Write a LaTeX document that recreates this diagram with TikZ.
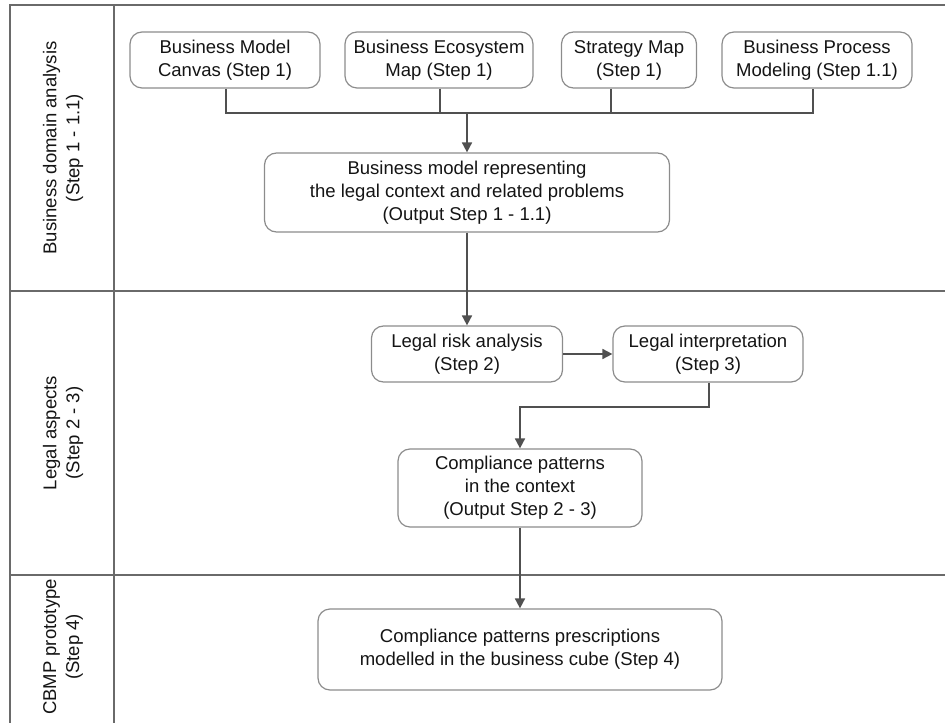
\documentclass[tikz,border=0pt]{standalone}
\usepackage{fontspec}
\setmainfont{Liberation Sans}
\usetikzlibrary{arrows.meta,calc}
\definecolor{boxline}{HTML}{8C8C8C}
\definecolor{laneline}{HTML}{6A6A6A}
\definecolor{flowline}{HTML}{505050}
\newcommand\px{0.75pt}
\begin{document}
\begin{tikzpicture}[x=0.75pt,y=-0.75pt,
  every node/.style={font=\fontsize{13.9}{17.25}\selectfont, text=black!92},
  stepbox/.style 2 args={draw=boxline, line width=1.2*\px, rounded corners=12*\px,
    align=center, inner sep=0pt, minimum width=#1*\px, minimum height=#2*\px},
  lanelbl/.style={rotate=90, align=center},
  flow/.style={draw=flowline, line width=1.7*\px},
  arr/.style={flow, -{Triangle[length=10*\px, width=10*\px]}},
]
\useasboundingbox (0,0) rectangle (945,723);

% swimlane frame
\draw[laneline, line width=1.7*\px] (10,723) -- (10,5) -- (945,5);
\draw[laneline, line width=1.7*\px] (114,5) -- (114,723);
\draw[laneline, line width=1.7*\px] (10,291) -- (945,291);
\draw[laneline, line width=1.7*\px] (10,575) -- (945,575);

% lane titles
\node[lanelbl] (l1) at (63,148) {Business domain analysis\\(Step 1 - 1.1)};
\node[lanelbl] (l2) at (63,433) {Legal aspects\\(Step 2 - 3)};
\node[lanelbl] (l3) at (63,647) {CBMP prototype\\(Step 4)};

% step 1 inputs
\node[stepbox={190}{56}] (bmc) at (225,60) {Business Model\\Canvas (Step 1)};
\node[stepbox={188}{56}] (bem) at (439,60) {Business Ecosystem\\Map (Step 1)};
\node[stepbox={135}{56}] (sm)  at (629,60) {Strategy Map\\(Step 1)};
\node[stepbox={190}{56}] (bpm) at (817,60) {Business Process\\Modeling (Step 1.1)};

\node[stepbox={405}{79}] (out1) at (467,192.5) {Business model representing\\the legal context and related problems\\(Output Step 1 - 1.1)};

% step 2-3
\node[stepbox={191}{56}] (lra) at (467,354) {Legal risk analysis\\(Step 2)};
\node[stepbox={190}{56}] (li)  at (708,354) {Legal interpretation\\(Step 3)};
\node[stepbox={244}{78}] (out2) at (520,488) {Compliance patterns\\in the context\\(Output Step 2 - 3)};

% step 4
\node[stepbox={404}{81}] (cbmp) at (520,649.5) {Compliance patterns prescriptions\\modelled in the business cube (Step 4)};

% merging the four inputs
\coordinate (j) at (467,113);
\draw[flow] ([xshift=1*\px]bmc.south) -- ([xshift=1*\px]bmc.south |- j)
  -- ([xshift=-4*\px]bpm.south |- j) -- ([xshift=-4*\px]bpm.south);
\draw[flow] ([xshift=1*\px]bem.south) -- ([xshift=1*\px]bem.south |- j);
\draw[flow] ([xshift=-18*\px]sm.south) -- ([xshift=-18*\px]sm.south |- j);
\draw[arr] (j) -- (j |- out1.north);

% flow between the lanes
\draw[arr] (out1.south -| lra.north) -- (lra.north);
\draw[arr] (lra.east) -- (li.west);
\coordinate (k) at (709,407);
\draw[arr] ([xshift=1*\px]li.south) -- (k) -- (k -| out2.north) -- (out2.north);
\draw[arr] (out2.south) -- (cbmp.north);
\end{tikzpicture}
\end{document}
